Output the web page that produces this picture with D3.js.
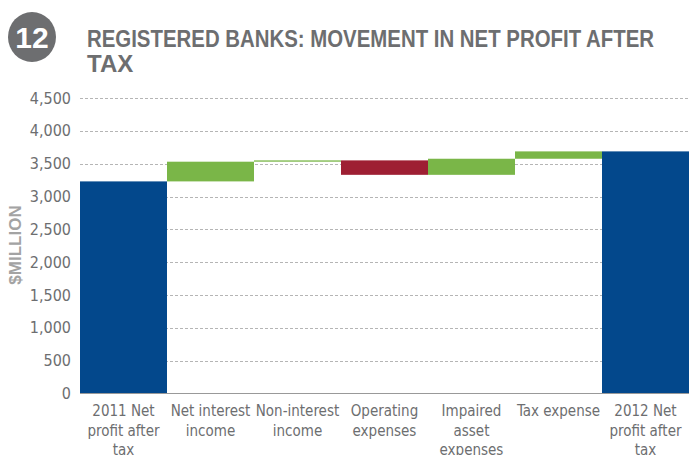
<!DOCTYPE html>
<html>
<head>
    <title>Registered banks: movement in net profit after tax</title>
    <script src="https://cdnjs.cloudflare.com/ajax/libs/d3/7.8.5/d3.min.js"></script>
    <style>
        body { margin: 0; background: white; }
        svg { display: block; }
        .tick-label { font-family: 'Liberation Sans Narrow', 'DejaVu Sans Condensed', sans-serif; font-size: 16px; fill: #6d6e70; }
        .cat-label { font-family: 'Liberation Sans Narrow', 'DejaVu Sans Condensed', sans-serif; font-size: 15px; fill: #6d6e70; }
    </style>
</head>
<body>
    <div id="chart"></div>
    <script>
        // chart data
        const categories = ['2011 Net profit after tax', 'Net interest income', 'Non-interest income',
            'Operating expenses', 'Impaired asset expenses', 'Tax expense', '2012 Net profit after tax'];
        const categoryLines = [
            ['2011 Net', 'profit after', 'tax'],
            ['Net interest', 'income'],
            ['Non-interest', 'income'],
            ['Operating', 'expenses'],
            ['Impaired', 'asset', 'expenses'],
            ['Tax expense'],
            ['2012 Net', 'profit after', 'tax']
        ];
        // first and last are totals, the rest are changes
        const kinds = ['total', 'change', 'change', 'change', 'change', 'change', 'total'];
        const values = [3230, 300, 20, -220, 245, 112, 3687];
        const yTicks = [0, 500, 1000, 1500, 2000, 2500, 3000, 3500, 4000, 4500];

        const COLORS = { total: '#03488c', up: '#7ab648', down: '#9e1f33' };

        const W = 689, H = 455;
        const margin = {top: 98, right: 0, bottom: 62, left: 80};

        const svg = d3.select('#chart')
            .append('svg')
            .attr('width', W)
            .attr('height', H);

        // build waterfall steps
        let running = 0;
        const steps = categories.map((c, i) => {
            if (kinds[i] === 'total') {
                running = values[i];
                return {cat: c, lines: categoryLines[i], y0: 0, y1: values[i], color: COLORS.total};
            }
            const start = running;
            running += values[i];
            return {cat: c, lines: categoryLines[i], y0: start, y1: running,
                color: values[i] >= 0 ? COLORS.up : COLORS.down};
        });

        const x = d3.scaleBand()
            .domain(categories)
            .range([margin.left, W - margin.right])
            .padding(0);

        const y = d3.scaleLinear()
            .domain([0, 4500])
            .range([H - margin.bottom + 0.5, margin.top]);

        // gridlines
        svg.append('g')
            .selectAll('line')
            .data(yTicks.filter(d => d > 0))
            .join('line')
            .attr('x1', margin.left)
            .attr('x2', W)
            .attr('y1', d => Math.round(y(d)) + 0.5)
            .attr('y2', d => Math.round(y(d)) + 0.5)
            .attr('stroke', '#b5b5b5')
            .attr('stroke-width', 1)
            .attr('stroke-dasharray', '3,2');

        // bars
        svg.append('g')
            .selectAll('rect')
            .data(steps)
            .join('rect')
            .attr('x', d => x(d.cat))
            .attr('width', x.bandwidth())
            .attr('y', d => y(Math.max(d.y0, d.y1)))
            .attr('height', d => Math.abs(y(d.y0) - y(d.y1)))
            .attr('fill', d => d.color);

        // baseline
        svg.append('line')
            .attr('x1', margin.left)
            .attr('x2', W)
            .attr('y1', y(0))
            .attr('y2', y(0))
            .attr('stroke', '#999')
            .attr('stroke-width', 1.2);

        // y axis labels
        const yAxis = svg.append('g')
            .attr('transform', `translate(${margin.left - 9},0)`)
            .call(d3.axisLeft(y).tickValues(yTicks).tickSize(0).tickPadding(0)
                .tickFormat(d3.format(',')));
        yAxis.select('.domain').remove();
        yAxis.selectAll('text').attr('class', 'tick-label').attr('fill', null);

        // x axis labels
        const xl = svg.append('g');
        steps.forEach(s => {
            const t = xl.append('text')
                .attr('class', 'cat-label')
                .attr('text-anchor', 'middle')
                .attr('x', x(s.cat) + x.bandwidth() / 2)
                .attr('y', 416);
            s.lines.forEach((ln, j) => {
                t.append('tspan')
                    .attr('x', x(s.cat) + x.bandwidth() / 2)
                    .attr('dy', j === 0 ? 0 : 19.5)
                    .text(ln);
            });
        });

        // y axis title
        svg.append('text')
            .attr('transform', `translate(21,245) rotate(-90)`)
            .attr('text-anchor', 'middle')
            .style('font-family', "'Liberation Sans Narrow', sans-serif")
            .style('font-weight', 'bold')
            .style('font-size', '17px')
            .attr('fill', '#a3a3a3')
            .text('$MILLION');

        // chart number badge
        svg.append('ellipse')
            .attr('cx', 32)
            .attr('cy', 37)
            .attr('rx', 24)
            .attr('ry', 25)
            .attr('fill', '#6d6e70');
        svg.append('text')
            .attr('x', 32)
            .attr('y', 48)
            .attr('text-anchor', 'middle')
            .style('font-family', "'Liberation Sans Narrow', sans-serif")
            .style('font-weight', 'bold')
            .style('font-size', '30px')
            .attr('fill', 'white')
            .text('12');

        // title
        const title = svg.append('text')
            .style('font-family', "'Liberation Sans Narrow', sans-serif")
            .style('font-weight', 'bold')
            .style('font-size', '24px')
            .attr('fill', '#6d6e70');
        title.append('tspan').attr('x', 87).attr('y', 47)
            .attr('textLength', 567).attr('lengthAdjust', 'spacingAndGlyphs')
            .text('REGISTERED BANKS: MOVEMENT IN NET PROFIT AFTER');
        title.append('tspan').attr('x', 87).attr('y', 72).text('TAX');
    </script>
</body>
</html>
